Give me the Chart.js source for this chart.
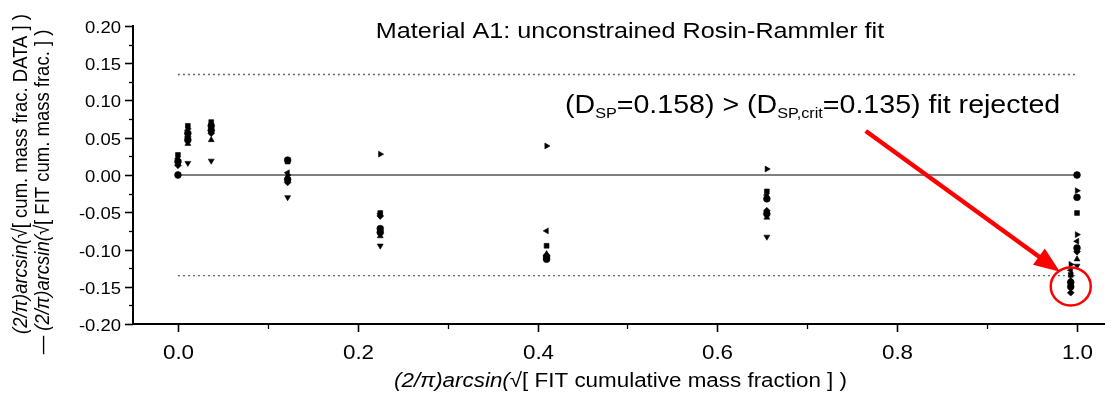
<!DOCTYPE html>
<html>
<head>
<meta charset="utf-8">
<script src="https://cdn.jsdelivr.net/npm/chart.js@4.4.1/dist/chart.umd.min.js"></script>
<style>
  html, body { margin: 0; padding: 0; background: #ffffff; }
  #wrap { width: 1114px; height: 396px; }
</style>
</head>
<body>
<div id="wrap"><canvas id="chart" width="1114" height="396"></canvas></div>
<script>
// Transformed FIT cumulative mass fraction for each sieve class (x positions)
const fitX = [0.000, 0.011, 0.037, 0.122, 0.225, 0.410, 0.655, 0.993, 1.000];

// Deviation DATA - FIT (transformed), one array per replicate / marker style
const squareY    = [0.027, 0.066, 0.071, 0.018, -0.051, -0.095, -0.022, -0.134, -0.051];
const circleY    = [0.000, 0.056, 0.066, 0.020, -0.072, -0.110, -0.032, -0.144,  0.000];
const circleBY   = [0.018, 0.047, 0.060, -0.006, -0.077, -0.113, -0.052, -0.150, -0.098];
const circleCY   = [null,  null,  null,  null,   null,   null,   null,   null,   -0.030];
const triUpY     = [0.015, 0.042, 0.047, -0.003, -0.082, -0.106, -0.057, -0.141, -0.113];
const triDownY   = [null,  0.016, 0.019, -0.030, -0.095, null,   -0.083, null,   -0.122];
const diamondY   = [0.013, 0.051, 0.056, -0.010, -0.055, -0.108, -0.048, -0.158, -0.103];
const triLeftY   = [0.022, 0.060, null,  0.003,  -0.052, -0.075, -0.027, -0.128, -0.089];
const triRightY  = [0.020, 0.062, null,  0.000,  0.028,  0.039,  0.008,  -0.120, -0.021];
const triRightBY = [null,  null,  null,  null,   null,   null,   null,   null,   -0.080];

// Kolmogorov-Smirnov-type statistic and its critical value
const dspValue = 0.158;
const dspCrit = 0.135;

// Axis ticks
const xTickValues = [0.0, 0.1, 0.2, 0.3, 0.4, 0.5, 0.6, 0.7, 0.8, 0.9, 1.0];
const xTickLabels = ['0.0', '', '0.2', '', '0.4', '', '0.6', '', '0.8', '', '1.0'];
const yTickValues = [-0.200, -0.175, -0.150, -0.125, -0.100, -0.075, -0.050, -0.025, 0.000,
                     0.025, 0.050, 0.075, 0.100, 0.125, 0.150, 0.175, 0.200];
const yTickLabels = ['-0.20', '', '-0.15', '', '-0.10', '', '-0.05', '', '0.00',
                     '', '0.05', '', '0.10', '', '0.15', '', '0.20'];

const chartTitle = 'Material A1: unconstrained Rosin-Rammler fit';

const FONT = '"Liberation Sans", Arial, Helvetica, sans-serif';
const SX = 1.12; // horizontal text widening used throughout the figure

function pts(ys) {
  const out = [];
  ys.forEach((y, i) => { if (y !== null) out.push({ x: fitX[i], y: y }); });
  return out;
}

function markerSet(label, ys, style, rotation) {
  return {
    label: label,
    data: pts(ys),
    pointStyle: style,
    rotation: rotation || 0,
    pointRadius: 3.4,
    pointHoverRadius: 3.4,
    backgroundColor: '#000000',
    borderColor: '#000000',
    borderWidth: 0.6,
    showLine: false
  };
}

function refLine(label, y, dash, color, width) {
  return {
    label: label,
    data: [{ x: 0, y: y }, { x: 1, y: y }],
    showLine: true,
    borderColor: color,
    borderWidth: width,
    borderDash: dash,
    pointRadius: 0,
    pointHoverRadius: 0,
    fill: false
  };
}

function runsWidth(ctx, runs) {
  let w = 0;
  for (const r of runs) { ctx.font = r.font; w += ctx.measureText(r.text).width; }
  return w;
}

// Draws a sequence of differently styled text pieces, optionally rotated
function drawRuns(ctx, runs, x, y, align, rotate) {
  ctx.save();
  ctx.translate(x, y);
  ctx.scale(SX, 1);
  if (rotate) ctx.rotate(-Math.PI / 2);
  ctx.textAlign = 'left';
  const w = runsWidth(ctx, runs);
  let cx = align === 'center' ? -w / 2 : (align === 'right' ? -w : 0);
  for (const r of runs) {
    ctx.font = r.font;
    ctx.fillStyle = r.color || '#000000';
    ctx.textBaseline = r.baseline || 'alphabetic';
    ctx.fillText(r.text, cx, r.dy || 0);
    cx += ctx.measureText(r.text).width;
  }
  ctx.restore();
}

const decorPlugin = {
  id: 'decor',
  afterDraw(chart) {
    const ctx = chart.ctx;
    const xs = chart.scales.x;
    const ys = chart.scales.y;
    const area = chart.chartArea;

    // tick marks and tick labels
    ctx.save();
    ctx.strokeStyle = '#000000';
    ctx.fillStyle = '#000000';
    xTickValues.forEach((v, i) => {
      const px = Math.round(xs.getPixelForValue(v)) + 0.5;
      const major = xTickLabels[i] !== '';
      ctx.lineWidth = major ? 1.6 : 1.3;
      ctx.beginPath();
      ctx.moveTo(px, area.bottom);
      ctx.lineTo(px, area.bottom + (major ? 8 : 5));
      ctx.stroke();
      if (major) {
        drawRuns(ctx, [{ text: xTickLabels[i], font: '20px ' + FONT }], px, area.bottom + 35, 'center');
      }
    });
    yTickValues.forEach((v, i) => {
      const py = Math.round(ys.getPixelForValue(v)) + 0.5;
      const major = yTickLabels[i] !== '';
      ctx.lineWidth = major ? 1.6 : 1.3;
      ctx.beginPath();
      ctx.moveTo(area.left, py);
      ctx.lineTo(area.left - (major ? 8 : 4), py);
      ctx.stroke();
      if (major) {
        drawRuns(ctx, [{ text: yTickLabels[i], font: '16.5px ' + FONT }], area.left - 12, py + 6, 'right');
      }
    });
    ctx.restore();

    // axis titles
    const it = 'italic 20px ' + FONT;
    const rg = '20px ' + FONT;
    drawRuns(ctx, [
      { text: '(2/\u03C0)arcsin(', font: it },
      { text: '\u221A[ FIT cumulative mass fraction ] )', font: rg }
    ], (area.left + area.right) / 2 + 2, 387, 'center');

    const yi = 'italic 18.5px ' + FONT;
    const yr = '18.5px ' + FONT;
    drawRuns(ctx, [
      { text: '(2/\u03C0)arcsin(', font: yi, baseline: 'middle' },
      { text: '\u221A[ cum. mass frac. DATA ] )', font: yr, baseline: 'middle' }
    ], 21, 174, 'center', true);
    drawRuns(ctx, [
      { text: '\u2014 ', font: yr, baseline: 'middle' },
      { text: '(2/\u03C0)arcsin(', font: yi, baseline: 'middle' },
      { text: '\u221A[ FIT cum. mass frac. ] )', font: yr, baseline: 'middle' }
    ], 43, 192, 'center', true);

    // chart title
    drawRuns(ctx, [{ text: chartTitle, font: '22.5px ' + FONT }], 630, 38, 'center');

    // rejection note
    const big = '25.5px ' + FONT;
    const sub = '14.5px ' + FONT;
    drawRuns(ctx, [
      { text: '(D', font: big },
      { text: 'SP', font: sub, dy: 5 },
      { text: '=' + dspValue.toFixed(3) + ') > (D', font: big },
      { text: 'SP,crit', font: sub, dy: 5 },
      { text: '=' + dspCrit.toFixed(3) + ') fit rejected', font: big }
    ], 565, 113, 'left');

    // red arrow to the largest deviation
    const tx = xs.getPixelForValue(0.765), ty = ys.getPixelForValue(0.059);
    const hx = xs.getPixelForValue(0.981), hy = ys.getPixelForValue(-0.130);
    const ang = Math.atan2(hy - ty, hx - tx);
    const headLen = 26, headHalf = 10;
    const bx = hx - headLen * Math.cos(ang), by = hy - headLen * Math.sin(ang);
    ctx.save();
    ctx.strokeStyle = '#ff0000';
    ctx.fillStyle = '#ff0000';
    ctx.lineWidth = 4.5;
    ctx.lineCap = 'butt';
    ctx.beginPath();
    ctx.moveTo(tx, ty);
    ctx.lineTo(bx + 2 * Math.cos(ang), by + 2 * Math.sin(ang));
    ctx.stroke();
    ctx.beginPath();
    ctx.moveTo(hx, hy);
    ctx.lineTo(bx + headHalf * Math.sin(ang), by - headHalf * Math.cos(ang));
    ctx.lineTo(bx - headHalf * Math.sin(ang), by + headHalf * Math.cos(ang));
    ctx.closePath();
    ctx.fill();

    // circle around the rejected points
    const cx = xs.getPixelForValue(0.993), cy = ys.getPixelForValue(-0.1495);
    ctx.lineWidth = 2.5;
    ctx.beginPath();
    ctx.ellipse(cx, cy, 20, 19, 0, 0, Math.PI * 2);
    ctx.stroke();
    ctx.restore();
  }
};

new Chart(document.getElementById('chart'), {
  type: 'scatter',
  data: {
    datasets: [
      markerSet('square', squareY, 'rect'),
      markerSet('circle', circleY, 'circle'),
      markerSet('circle B', circleBY, 'circle'),
      markerSet('circle C', circleCY, 'circle'),
      markerSet('triangle up', triUpY, 'triangle', 0),
      markerSet('triangle down', triDownY, 'triangle', 180),
      markerSet('diamond', diamondY, 'rectRot'),
      markerSet('triangle left', triLeftY, 'triangle', 270),
      markerSet('triangle right', triRightY, 'triangle', 90),
      markerSet('triangle right B', triRightBY, 'triangle', 90),
      refLine('zero', 0, [], '#555555', 1.5),
      refLine('upper critical', dspCrit, [2, 3], '#666666', 1.4),
      refLine('lower critical', -dspCrit, [2, 3], '#666666', 1.4)
    ]
  },
  options: {
    responsive: false,
    animation: false,
    events: [],
    layout: { padding: { top: 26, right: 10, left: 0, bottom: 0 } },
    plugins: {
      legend: { display: false },
      tooltip: { enabled: false },
      title: { display: false }
    },
    scales: {
      x: {
        type: 'linear',
        position: 'bottom',
        min: -0.05,
        max: 1.03,
        grid: { display: false },
        border: { display: true, color: '#000000', width: 2 },
        ticks: { display: false },
        afterBuildTicks: (s) => { s.ticks = xTickValues.map(v => ({ value: v })); },
        afterFit: (s) => { s.height = 72; }
      },
      y: {
        type: 'linear',
        position: 'left',
        min: -0.2,
        max: 0.2,
        grid: { display: false },
        border: { display: true, color: '#000000', width: 2 },
        ticks: { display: false },
        afterBuildTicks: (s) => { s.ticks = yTickValues.map(v => ({ value: v })); },
        afterFit: (s) => { s.width = 133; }
      }
    }
  },
  plugins: [decorPlugin]
});
</script>
</body>
</html>
